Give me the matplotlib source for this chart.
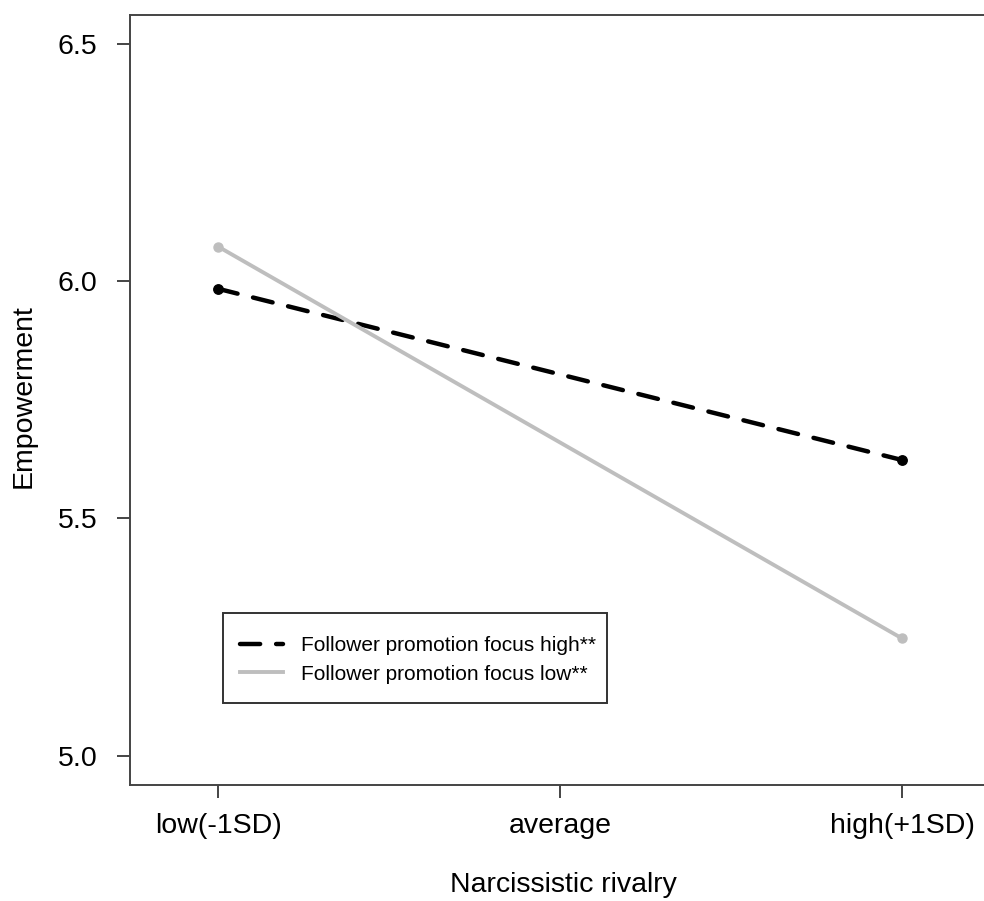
import matplotlib
matplotlib.use("Agg")
import matplotlib.pyplot as plt
from matplotlib.patches import Rectangle

plt.rcParams['font.family'] = ['Liberation Sans', 'DejaVu Sans']
plt.rcParams['lines.scale_dashes'] = False

# Data
x_labels = ["low(-1SD)", "average", "high(+1SD)"]
x_pos = [1, 3]
high_focus = [5.984, 5.623]
low_focus = [6.073, 5.247]
series_names = ["Follower promotion focus high**", "Follower promotion focus low**"]
y_ticks = [5.0, 5.5, 6.0, 6.5]

W, H = 984, 901
AX_L, AX_R, AX_T, AX_B = 130, 996, 15, 785
fig = plt.figure(figsize=(W/100, H/100), dpi=100)
ax = fig.add_axes([AX_L/W, (H-AX_B)/H, (AX_R-AX_L)/W, (AX_B-AX_T)/H])

def px2ax(px, py):
    return ((px-AX_L)/(AX_R-AX_L), (AX_B-py)/(AX_B-AX_T))

gray = "#BEBEBE"
ax.plot(x_pos, high_focus, color="black", lw=3.2, dashes=(14.5, 11.5),
        marker="o", markersize=6.8, label=series_names[0],
        dash_capstyle="round")
ax.plot(x_pos, low_focus, color=gray, lw=2.8, marker="o", markersize=6.5,
        label=series_names[1])

# x scale: 1 at px 218, 2 at px 560
xl = 1 - (218-AX_L)/342
xr = 1 + (AX_R-218)/342
ax.set_xlim(xl, xr)
ax.set_ylim(4.938, 6.561)
ax.set_xticks([1, 2, 3])
ax.set_xticklabels(x_labels)
ax.set_yticks(y_ticks)
ax.set_yticklabels([f"{v:.1f}" for v in y_ticks])

for s in ax.spines.values():
    s.set_color("#444444")
    s.set_linewidth(1.4)
ax.tick_params(axis="both", length=9.5, width=1.4, color="#444444", labelsize=20.5)
ax.tick_params(axis="x", pad=11)
ax.tick_params(axis="y", pad=14)

ax.set_xlabel("Narcissistic rivalry", fontsize=20.5)
ax.set_ylabel("Empowerment", fontsize=20.5, va="center")
ax.xaxis.set_label_coords(0.5, -0.113)
ax.yaxis.set_label_coords(-0.123, 0.505)

# legend box drawn as a rectangle, legend entries without frame
x0, y0 = px2ax(223, 703)
x1, y1 = px2ax(607, 613)
ax.add_patch(Rectangle((x0, y0), x1-x0, y1-y0, transform=ax.transAxes,
                       fill=False, edgecolor="#333333", linewidth=1.4, zorder=5))
ax_anchor = px2ax(240, 636)
leg = ax.legend(loc="upper left", bbox_to_anchor=ax_anchor,
                fontsize=15, frameon=False, borderpad=0.0,
                labelspacing=0.46, handlelength=2.05, handletextpad=0.9,
                borderaxespad=0.0)
for h in leg.legend_handles:
    h.set_marker("")

fig.savefig("out.png", dpi=100)
